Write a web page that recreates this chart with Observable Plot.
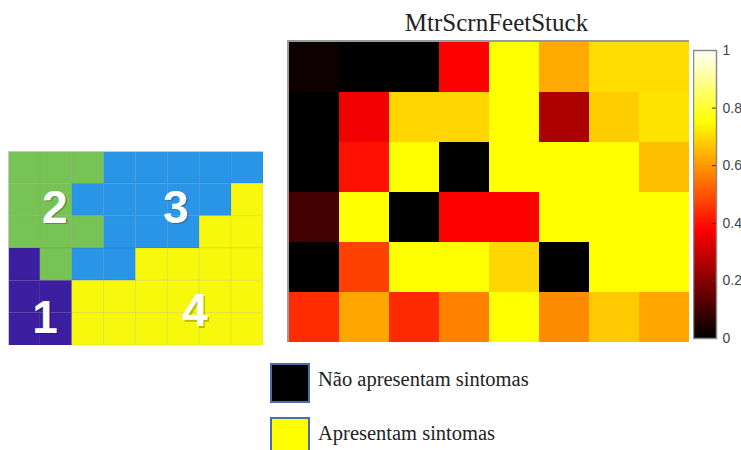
<!DOCTYPE html>
<html>
<head>
<meta charset="utf-8">
<script src="https://cdn.jsdelivr.net/npm/d3@7"></script>
<script src="https://cdn.jsdelivr.net/npm/@observablehq/plot@0.6"></script>
<style>
  html, body { margin: 0; padding: 0; background: #fff; }
  #root { position: relative; width: 741px; height: 450px; overflow: hidden; }
  .abs { position: absolute; }
  .serif { font-family: "Liberation Serif", "DejaVu Serif", serif; color: #222; white-space: nowrap; }
  .swatch { position: absolute; width: 36px; height: 36px; border: 2px solid #4a6ea8; }
</style>
</head>
<body>
<div id="root">
  <div id="grid" class="abs" style="left:8px; top:151px;"></div>
  <div class="abs serif" id="title" style="left:300px; top:9px; width:393px; text-align:center; font-size:25px;"></div>
  <div class="abs" style="left:287px; top:40px; width:402px; height:302px; border-top:2px solid #9a9a9a; border-left:2px solid #9a9a9a; box-sizing:border-box;"></div>
  <div id="heat" class="abs" style="left:289px; top:42px;"></div>
  <div id="cbar" class="abs" style="left:693px; top:38px;"></div>
  <div id="legend"></div>
</div>
<script>
// ---------- data ----------
const titleText = "MtrScrnFeetStuck";
const columns = [1, 2, 3, 4, 5, 6, 7, 8];
const rows = [1, 2, 3, 4, 5, 6];
// heat map values, top row first
const heatRow1 = [0.02, 0, 0, 0.375, 0.75, 0.625, 0.70, 0.70];
const heatRow2 = [0, 0.355, 0.69, 0.69, 0.75, 0.25, 0.675, 0.71];
const heatRow3 = [0, 0.40, 0.75, 0, 0.75, 0.75, 0.75, 0.655];
const heatRow4 = [0.10, 0.75, 0, 0.375, 0.375, 0.75, 0.75, 0.75];
const heatRow5 = [0, 0.47, 0.75, 0.75, 0.69, 0, 0.75, 0.75];
const heatRow6 = [0.44, 0.62, 0.435, 0.565, 0.75, 0.58, 0.67, 0.62];
const heatRows = [heatRow1, heatRow2, heatRow3, heatRow4, heatRow5, heatRow6];
const colorbarTicks = [0, 0.2, 0.4, 0.6, 0.8, 1];

// region map of the small grid (top row first)
const regionRow1 = ["2", "2", "2", "3", "3", "3", "3", "3"];
const regionRow2 = ["2", "2", "3", "3", "3", "3", "3", "4"];
const regionRow3 = ["2", "2", "2", "3", "3", "3", "4", "4"];
const regionRow4 = ["1", "2", "3", "3", "4", "4", "4", "4"];
const regionRow5 = ["1", "1", "4", "4", "4", "4", "4", "4"];
const regionRow6 = ["1", "1", "4", "4", "4", "4", "4", "4"];
const regionRows = [regionRow1, regionRow2, regionRow3, regionRow4, regionRow5, regionRow6];
const regionNames = ["1", "2", "3", "4"];
const regionColors = ["#3c1fa0", "#78c355", "#2895e6", "#f8f80c"];
// label anchor of each region in grid units (column, row from top)
const labelNames = ["2", "3", "1", "4"];
const labelCol = [1.45, 5.25, 1.15, 5.85];
const labelRow = [1.75, 1.75, 5.15, 4.95];

const legendLabels = ["Não apresentam sintomas", "Apresentam sintomas"];
const legendColors = ["#000000", "#ffff00"];

// ---------- MATLAB "hot" colour map ----------
function hot(t) {
  const c = v => Math.max(0, Math.min(1, v));
  const r = c(t / 0.375), g = c((t - 0.375) / 0.375), b = c((t - 0.75) / 0.25);
  return `rgb(${Math.round(r * 255)},${Math.round(g * 255)},${Math.round(b * 255)})`;
}

// ---------- small region grid ----------
const gridCells = [];
regionRows.forEach((row, i) => row.forEach((reg, j) => gridCells.push({col: j, row: i, region: reg})));
const labels = labelNames.map((n, i) => ({name: n, col: labelCol[i], row: labelRow[i]}));

document.getElementById("grid").append(Plot.plot({
  width: 255, height: 194,
  margin: 0,
  x: {domain: [0, 8], axis: null},
  y: {domain: [0, 6], axis: null, reverse: true},
  color: {type: "ordinal", domain: regionNames, range: regionColors},
  marks: [
    Plot.rect(gridCells, {x1: "col", x2: d => d.col + 1, y1: "row", y2: d => d.row + 1,
      fill: "region", stroke: "#000", strokeOpacity: 0.06, strokeWidth: 1}),
    Plot.frame({stroke: "#c8c8c8"}),
    Plot.text(labels, {x: "col", y: "row", text: "name", fill: "#000", fillOpacity: 0.25,
      dx: 1.5, dy: 1.5, fontSize: 46, fontWeight: "bold", fontFamily: "Liberation Sans, Arial, sans-serif"}),
    Plot.text(labels, {x: "col", y: "row", text: "name", fill: "#fff",
      fontSize: 46, fontWeight: "bold", fontFamily: "Liberation Sans, Arial, sans-serif"})
  ]
}));

// ---------- heat map ----------
const heatCells = [];
heatRows.forEach((row, i) => row.forEach((v, j) => heatCells.push({col: columns[j], row: rows[i], value: v})));

document.getElementById("title").textContent = titleText;

document.getElementById("heat").append(Plot.plot({
  width: 400, height: 300,
  margin: 0,
  x: {type: "band", domain: columns, padding: 0, axis: null},
  y: {type: "band", domain: rows, padding: 0, axis: null},
  color: {type: "linear", domain: [0, 1], interpolate: hot},
  marks: [
    Plot.cell(heatCells, {x: "col", y: "row", fill: "value", inset: 0, shapeRendering: "crispEdges"})
  ]
}));

// ---------- colour bar ----------
const steps = d3.range(0, 1, 0.004);
document.getElementById("cbar").append(Plot.plot({
  width: 48, height: 312,
  marginTop: 12, marginBottom: 12, marginLeft: 0, marginRight: 25,
  x: {domain: [0, 1], axis: null},
  y: {domain: [0, 1]},
  color: {type: "linear", domain: [0, 1], interpolate: hot},
  marks: [
    Plot.rect(steps, {x1: 0, x2: 1, y1: d => d, y2: d => d + 0.008, fill: d => d, inset: 0, shapeRendering: "crispEdges"}),
    Plot.ruleY(colorbarTicks.slice(1, -1), {x1: 0.82, x2: 1, stroke: "#333", strokeWidth: 1}),
    Plot.frame({stroke: "#8a8a8a", strokeWidth: 1.5}),
    Plot.axisY(colorbarTicks, {anchor: "right", tickSize: 0, tickPadding: 6, label: null,
      tickFormat: d => String(d), fontSize: 14, fill: "#444", fontFamily: "Liberation Sans, Arial, sans-serif"})
  ]
}));

// ---------- legend ----------
const legend = document.getElementById("legend");
legendLabels.forEach((lab, i) => {
  const top = 363 + i * 54;
  const sw = document.createElement("div");
  sw.className = "swatch";
  sw.style.left = "270px";
  sw.style.top = top + "px";
  sw.style.background = legendColors[i];
  legend.append(sw);
  const tx = document.createElement("div");
  tx.className = "abs serif";
  tx.style.left = "318px";
  tx.style.top = (top + 5) + "px";
  tx.style.fontSize = "20.5px";
  tx.textContent = lab;
  legend.append(tx);
});
</script>
</body>
</html>
